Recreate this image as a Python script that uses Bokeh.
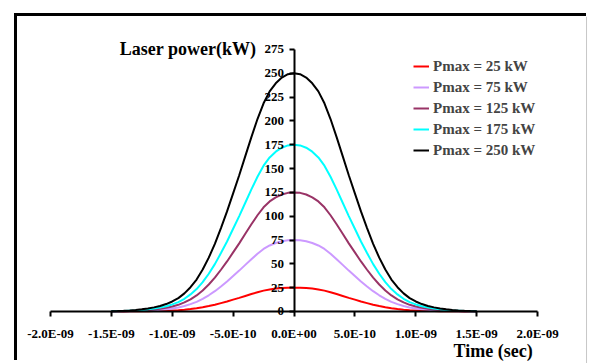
from bokeh.plotting import figure
from bokeh.models import FixedTicker, CustomJSTickFormatter, Label, Legend, LegendItem, Span
from bokeh.embed import file_html
from bokeh.resources import INLINE

# ---- data (pulses are symmetric about t = 0) ----
t_half_ns = [0.0, 0.05, 0.10, 0.15, 0.20, 0.25, 0.30, 0.35, 0.40, 0.45, 0.50, 0.55, 0.60,
             0.65, 0.70, 0.75, 0.80, 0.85, 0.90, 0.95, 1.00, 1.05, 1.10, 1.15, 1.20, 1.25,
             1.30, 1.35, 1.40, 1.45, 1.50]

p25_half = [25, 24.9, 24.6, 24, 23.1, 21.9, 20.2, 18.3, 16.3, 14.3, 12.4, 10.5, 8.8, 7.1, 5.7,
            4.4, 3.4, 2.6, 1.9, 1.4, 1.1, 0.8, 0.6, 0.43, 0.32, 0.23, 0.16, 0.11, 0.07, 0.05, 0.03]
p75_half = [75, 74.7, 73.7, 71.9, 69.3, 65.6, 60.6, 54.9, 48.9, 42.9, 37.2, 31.5, 26.3, 21.3, 17,
            13.2, 10.1, 7.7, 5.7, 4.2, 3.2, 2.3, 1.7, 1.3, 1.0, 0.7, 0.5, 0.33, 0.2, 0.14, 0.1]
p125_half = [125, 124.5, 122.8, 119.8, 115.5, 109.3, 101, 91.5, 81.5, 71.5, 62, 52.5, 43.8, 35.5,
             28.3, 22, 16.8, 12.8, 9.5, 7, 5.3, 3.9, 2.9, 2.2, 1.6, 1.2, 0.8, 0.55, 0.35, 0.2, 0.15]
p175_half = [175, 174.3, 171.9, 167.7, 161.7, 153, 141.4, 128.1, 114.1, 100.1, 86.8, 73.5, 61.3,
             49.7, 39.6, 30.8, 23.5, 17.9, 13.3, 9.8, 7.4, 5.5, 4.1, 3.0, 2.2, 1.6, 1.1, 0.8, 0.5,
             0.3, 0.2]
p250_half = [250, 249, 245.5, 239.5, 231, 218.5, 202, 183, 163, 143, 124, 105, 87.5, 71, 56.5, 44,
             33.5, 25.5, 19, 14, 10.5, 7.8, 5.8, 4.3, 3.2, 2.3, 1.6, 1.1, 0.7, 0.45, 0.3]

series_names = ["Pmax = 25 kW", "Pmax = 75 kW", "Pmax = 125 kW", "Pmax = 175 kW", "Pmax = 250 kW"]
series_half = [p25_half, p75_half, p125_half, p175_half, p250_half]
series_colors = ["#FF0000", "#CC99FF", "#993366", "#00FFFF", "#000000"]

x_ticks = [-2.0e-9, -1.5e-9, -1.0e-9, -0.5e-9, 0.0, 0.5e-9, 1.0e-9, 1.5e-9, 2.0e-9]
x_tick_labels = ["-2.0E-09", "-1.5E-09", "-1.0E-09", "-5.0E-10", "0.0E+00",
                 "5.0E-10", "1.0E-09", "1.5E-09", "2.0E-09"]
y_ticks = [0, 25, 50, 75, 100, 125, 150, 175, 200, 225, 250, 275]

# mirror the half profiles into full pulses
time_s = [-t * 1e-9 for t in reversed(t_half_ns)] + [t * 1e-9 for t in t_half_ns[1:]]
series_full = [list(reversed(h)) + h[1:] for h in series_half]

FONT = "Liberation Serif"

p = figure(width=572, height=347, output_backend="svg", toolbar_location=None,
           x_range=(-2.271e-9, 2.427e-9), y_range=(-54.6, 309.6),
           min_border_left=0, min_border_top=0, min_border_right=0, min_border_bottom=0,
           margin=(16, 0, 0, 17),
           styles={"box-shadow": "-3px -3px 0 0 black"})
p.outline_line_color = None
p.xgrid.visible = False
p.ygrid.visible = False
p.background_fill_color = "white"
p.border_fill_color = "white"

renderers = []
for vals, col in zip(series_full, series_colors):
    r = p.line(time_s, vals, line_color=col, line_width=2)
    renderers.append(r)

# axes
p.xaxis.ticker = FixedTicker(ticks=x_ticks)
p.xaxis.formatter = CustomJSTickFormatter(args=dict(labels=x_tick_labels, xt=x_ticks), code="""
    var best = 0;
    for (var k = 0; k < xt.length; k++) {
        if (Math.abs(xt[k] - tick) < Math.abs(xt[best] - tick)) best = k;
    }
    return labels[best];
""")
p.xaxis.fixed_location = 0
p.xaxis.bounds = (x_ticks[0], x_ticks[-1])
p.yaxis.ticker = FixedTicker(ticks=y_ticks)
p.yaxis.fixed_location = 0
p.yaxis.bounds = (y_ticks[0], y_ticks[-1])

for ax in (p.xaxis[0], p.yaxis[0]):
    ax.axis_line_width = 2
    ax.axis_line_color = "black"
    ax.major_tick_line_width = 2
    ax.major_tick_line_color = "black"
    ax.major_tick_out = 5
    ax.major_tick_in = 0
    ax.minor_tick_out = 0
    ax.minor_tick_in = 0
    ax.major_label_text_font = FONT
    ax.major_label_text_font_style = "bold"
    ax.major_label_text_font_size = "13px"
    ax.major_label_text_color = "black"
p.xaxis.major_label_standoff = 10
p.yaxis.major_label_standoff = 5

p.add_layout(Span(location=2.4025e-9, dimension="height", line_color="#c8c8c8", line_width=1))

p.add_layout(Label(x=-0.31e-9, y=275, text="Laser power(kW)", text_align="right",
                   text_baseline="middle", text_font=FONT, text_font_style="bold",
                   text_font_size="18px", text_color="black"))
p.add_layout(Label(x=1.96e-9, y=-41, text="Time (sec)", text_align="right",
                   text_baseline="middle", text_font=FONT, text_font_style="bold",
                   text_font_size="18px", text_color="black"))

legend = Legend(items=[LegendItem(label=n, renderers=[r]) for n, r in zip(series_names, renderers)],
                location=(396, 203), padding=0, margin=0, spacing=1,
                label_height=20, glyph_height=20, glyph_width=16, label_standoff=4,
                label_text_font=FONT, label_text_font_style="bold", label_text_font_size="15px",
                border_line_alpha=0, background_fill_alpha=0)
p.add_layout(legend, "center")

open("out.html", "w").write(file_html(p, INLINE))
